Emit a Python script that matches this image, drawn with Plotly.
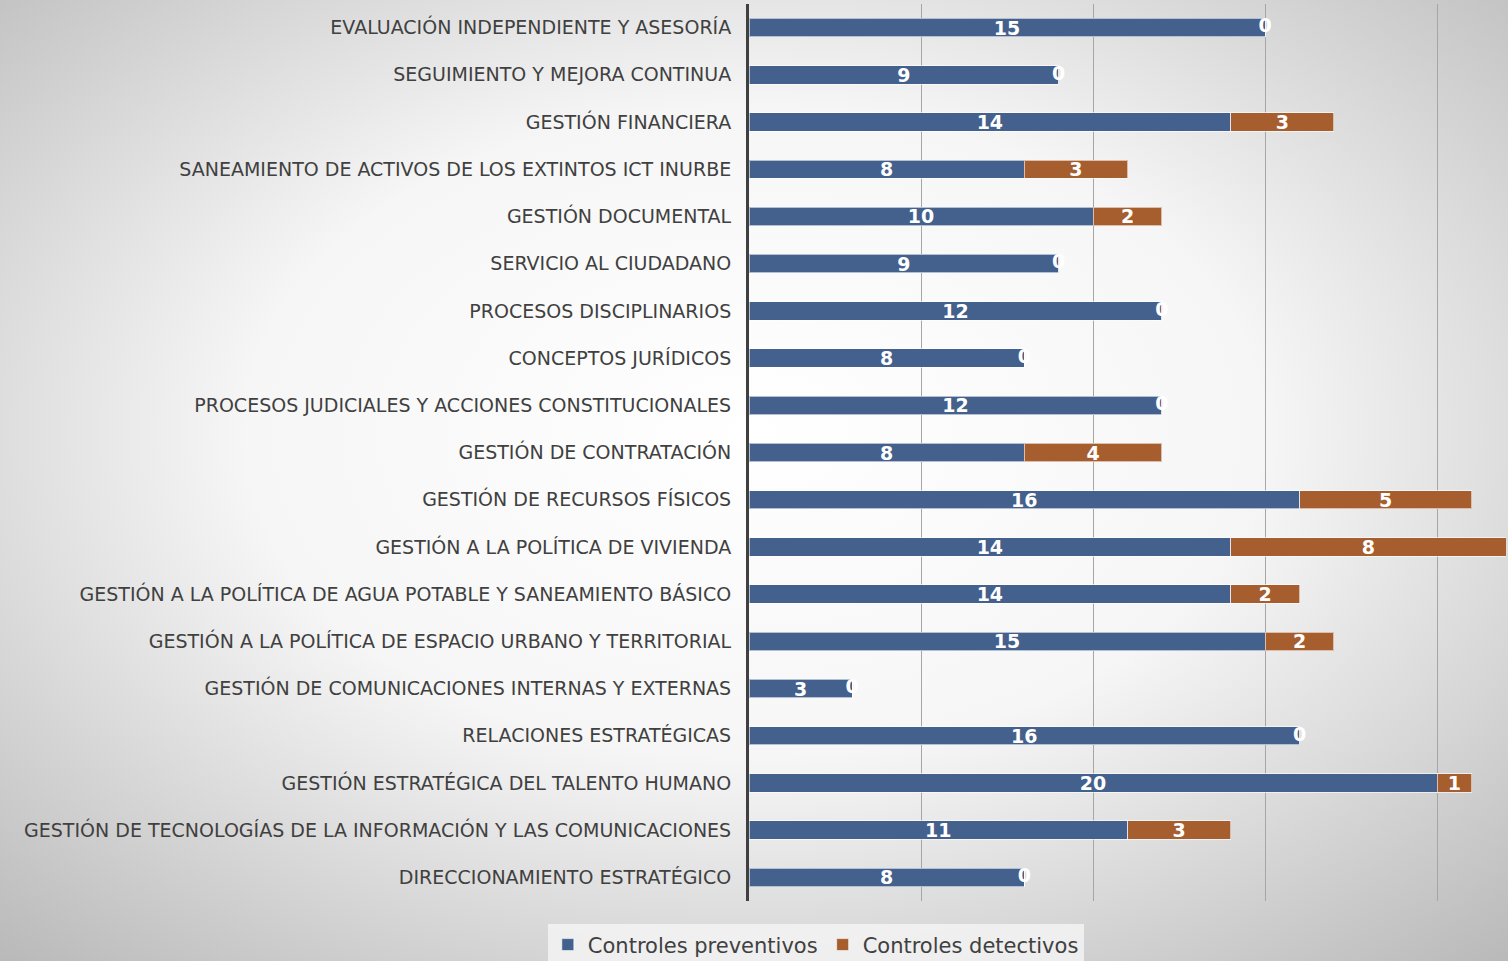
import base64
import plotly.graph_objects as go

categories = [
    "EVALUACIÓN INDEPENDIENTE Y ASESORÍA",
    "SEGUIMIENTO Y MEJORA CONTINUA",
    "GESTIÓN FINANCIERA",
    "SANEAMIENTO DE ACTIVOS DE LOS EXTINTOS ICT INURBE",
    "GESTIÓN DOCUMENTAL",
    "SERVICIO AL CIUDADANO",
    "PROCESOS DISCIPLINARIOS",
    "CONCEPTOS JURÍDICOS",
    "PROCESOS JUDICIALES Y ACCIONES CONSTITUCIONALES",
    "GESTIÓN DE CONTRATACIÓN",
    "GESTIÓN DE RECURSOS FÍSICOS",
    "GESTIÓN A LA POLÍTICA DE VIVIENDA",
    "GESTIÓN A LA POLÍTICA DE AGUA POTABLE Y SANEAMIENTO BÁSICO",
    "GESTIÓN A LA POLÍTICA DE ESPACIO URBANO Y TERRITORIAL",
    "GESTIÓN DE COMUNICACIONES INTERNAS Y EXTERNAS",
    "RELACIONES ESTRATÉGICAS",
    "GESTIÓN ESTRATÉGICA DEL TALENTO HUMANO",
    "GESTIÓN DE TECNOLOGÍAS DE LA INFORMACIÓN Y LAS COMUNICACIONES",
    "DIRECCIONAMIENTO ESTRATÉGICO",
]
preventivos = [15, 9, 14, 8, 10, 9, 12, 8, 12, 8, 16, 14, 14, 15, 3, 16, 20, 11, 8]
detectivos = [0, 0, 3, 3, 2, 0, 0, 0, 0, 4, 5, 8, 2, 2, 0, 0, 1, 3, 0]

BLUE = "#44608C"
ORANGE = "#A65E2E"

svg = """<svg xmlns='http://www.w3.org/2000/svg' width='1508' height='961' preserveAspectRatio='none'>
<defs><radialGradient id='g' cx='50%' cy='45%' r='75%'>
<stop offset='0%' stop-color='#ffffff'/>
<stop offset='45%' stop-color='#f6f6f6'/>
<stop offset='100%' stop-color='#b8b8b8'/>
</radialGradient></defs>
<rect width='1508' height='961' fill='url(#g)'/></svg>"""
bg_uri = "data:image/svg+xml;base64," + base64.b64encode(svg.encode()).decode()

LABEL_FONT = dict(color="white", size=19, family="DejaVu Sans", weight="bold")

fig = go.Figure()
fig.add_trace(go.Bar(
    y=categories, x=preventivos, orientation="h", name="Controles preventivos",
    marker=dict(color=BLUE, line=dict(color="rgba(255,255,255,0.6)", width=1)),
    text=[str(v) for v in preventivos], textposition="inside", insidetextanchor="middle",
    textangle=0, textfont=LABEL_FONT, constraintext="none",
))
fig.add_trace(go.Bar(
    y=categories, x=detectivos, orientation="h", name="Controles detectivos",
    marker=dict(color=ORANGE, line=dict(color="rgba(255,255,255,0.6)", width=1)),
    text=[str(v) if v > 0 else "" for v in detectivos], textposition="inside", insidetextanchor="middle",
    textangle=0, textfont=LABEL_FONT, constraintext="none",
))
# zero labels at the end of bars
zx = [p for p, d in zip(preventivos, detectivos) if d == 0]
zy = [c for c, d in zip(categories, detectivos) if d == 0]
fig.add_trace(go.Scatter(
    x=zx, y=zy, mode="text", text=["0"] * len(zx), showlegend=False, hoverinfo="skip",
    textposition="middle center", textfont=LABEL_FONT, cliponaxis=False,
))

fig.update_layout(
    width=1508, height=961,
    barmode="stack", bargap=0.61,
    paper_bgcolor="#ffffff", plot_bgcolor="rgba(0,0,0,0)",
    margin=dict(l=749, r=2, t=4, b=60, autoexpand=False),
    font=dict(family="DejaVu Sans", color="#404040"),
    images=[dict(source=bg_uri, xref="paper", yref="paper", x=-749/757, y=1 + 4/897,
                 sizex=1508/757, sizey=961/897, sizing="stretch", layer="below",
                 xanchor="left", yanchor="top")],
    xaxis=dict(range=[0, 22], dtick=5, showticklabels=False, showgrid=True,
               gridcolor="#a6a6a6", gridwidth=1, zeroline=False, showline=False, fixedrange=True),
    yaxis=dict(range=[18.5, -0.5], autorange=False, showline=True, linecolor="#404040", linewidth=3,
               ticks="", ticklabelstandoff=11, tickfont=dict(size=19, color="#404040", family="DejaVu Sans"),
               showgrid=False),
    legend=dict(orientation="h", xref="container", yref="paper", x=0.541, xanchor="center",
                y=-0.049, yanchor="middle", font=dict(size=21, color="#404040"),
                bgcolor="rgba(245,245,245,0.8)", traceorder="normal", itemwidth=30),
    showlegend=True,
)
fig.write_html("out.html", config={"displayModeBar": False},
               post_script="document.body.style.margin='0';document.body.style.overflow='hidden';")
